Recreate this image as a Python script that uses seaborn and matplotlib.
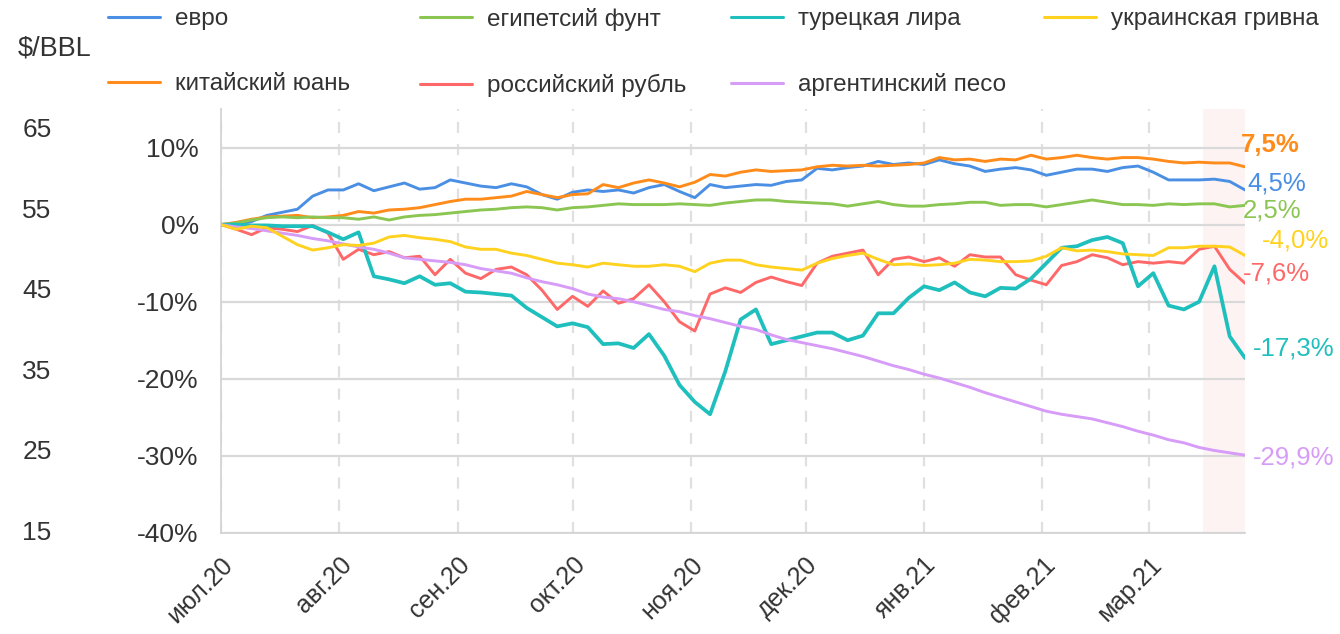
import matplotlib
matplotlib.use("Agg")
import matplotlib.pyplot as plt
import seaborn as sns
import pandas as pd

sns.set_theme(style="white")
plt.rcParams["font.family"] = ["Liberation Sans", "DejaVu Sans"]

# Изменение курса к доллару, % к 1 июля 2020 (точки каждые 4 дня)
dates = pd.date_range("2020-07-01", periods=68, freq="4D")

eur = [0.0, 0.0, 0.4, 1.2, 1.6, 2.0, 3.7, 4.5, 4.5, 5.3, 4.4, 4.9, 5.4, 4.6, 4.8, 5.8, 5.4,
       5.0, 4.8, 5.3, 4.9, 3.9, 3.3, 4.2, 4.5, 4.3, 4.5, 4.1, 4.8, 5.2, 4.3, 3.5, 5.2, 4.8,
       5.0, 5.2, 5.1, 5.6, 5.8, 7.3, 7.1, 7.4, 7.6, 8.2, 7.8, 8.0, 7.8, 8.4, 7.9, 7.6, 6.9,
       7.2, 7.4, 7.1, 6.4, 6.8, 7.2, 7.2, 6.9, 7.4, 7.6, 6.8, 5.8, 5.8, 5.8, 5.9, 5.6, 4.5]
cny = [0.0, 0.3, 0.7, 1.0, 1.1, 1.2, 0.9, 1.0, 1.2, 1.7, 1.5, 1.9, 2.0, 2.2, 2.6, 3.0, 3.3,
       3.3, 3.5, 3.7, 4.3, 3.9, 3.5, 3.9, 4.0, 5.2, 4.8, 5.4, 5.8, 5.4, 4.9, 5.5, 6.5, 6.3,
       6.8, 7.1, 6.9, 7.0, 7.1, 7.5, 7.7, 7.6, 7.7, 7.6, 7.7, 7.8, 8.0, 8.7, 8.4, 8.5, 8.2,
       8.5, 8.4, 9.0, 8.5, 8.7, 9.0, 8.7, 8.5, 8.7, 8.7, 8.5, 8.2, 8.0, 8.1, 8.0, 8.0, 7.5]
egp = [0.0, 0.2, 0.6, 0.9, 1.0, 0.9, 1.0, 0.9, 0.9, 0.7, 1.0, 0.6, 1.0, 1.2, 1.3, 1.5, 1.7,
       1.9, 2.0, 2.2, 2.3, 2.2, 1.9, 2.2, 2.3, 2.5, 2.7, 2.6, 2.6, 2.6, 2.7, 2.6, 2.5, 2.8,
       3.0, 3.2, 3.2, 3.0, 2.9, 2.8, 2.7, 2.4, 2.7, 3.0, 2.6, 2.4, 2.4, 2.6, 2.7, 2.9, 2.9,
       2.5, 2.6, 2.6, 2.3, 2.6, 2.9, 3.2, 2.9, 2.6, 2.6, 2.5, 2.7, 2.6, 2.7, 2.7, 2.3, 2.5]
rub = [0.0, -0.6, -1.3, -0.4, -0.6, -0.9, -0.1, -1.1, -4.5, -3.2, -3.9, -3.5, -4.3, -4.1,
       -6.5, -4.5, -6.3, -7.0, -5.8, -5.5, -6.5, -8.5, -11.0, -9.3, -10.6, -8.6, -10.2, -9.6,
       -7.8, -10.0, -12.6, -13.8, -9.0, -8.2, -8.8, -7.5, -6.8, -7.4, -7.9, -5.0, -4.1, -3.7,
       -3.3, -6.5, -4.5, -4.2, -4.8, -4.3, -5.4, -3.9, -4.2, -4.2, -6.5, -7.2, -7.8, -5.3,
       -4.8, -3.9, -4.3, -5.2, -4.8, -5.0, -4.8, -5.0, -3.2, -2.8, -5.8, -7.6]
tryl = [0.0, 0.0, -0.1, -0.1, -0.2, -0.2, -0.2, -1.0, -1.9, -1.0, -6.7, -7.1, -7.6, -6.7,
        -7.8, -7.6, -8.7, -8.8, -9.0, -9.2, -10.8, -12.0, -13.2, -12.8, -13.3, -15.5, -15.4,
        -16.0, -14.2, -17.0, -20.8, -23.0, -24.6, -19.0, -12.3, -11.0, -15.5, -15.0, -14.5,
        -14.0, -14.0, -15.0, -14.4, -11.5, -11.5, -9.5, -8.0, -8.5, -7.5, -8.8, -9.3, -8.2,
        -8.3, -7.0, -5.0, -3.0, -2.8, -2.0, -1.6, -2.4, -8.0, -6.3, -10.5, -11.0, -10.0,
        -5.4, -14.5, -17.3]
ars = [0.0, -0.3, -0.5, -0.8, -1.1, -1.4, -1.8, -2.1, -2.5, -2.9, -3.2, -3.7, -4.3, -4.5,
       -4.7, -4.9, -5.2, -5.7, -6.0, -6.3, -6.9, -7.4, -7.8, -8.3, -9.0, -9.4, -9.6, -10.0,
       -10.5, -11.0, -11.3, -11.8, -12.2, -12.7, -13.2, -13.6, -14.3, -14.9, -15.3, -15.7,
       -16.1, -16.6, -17.1, -17.7, -18.3, -18.8, -19.4, -19.9, -20.5, -21.1, -21.8, -22.4,
       -23.0, -23.6, -24.2, -24.6, -24.9, -25.2, -25.7, -26.2, -26.8, -27.3, -27.9, -28.3,
       -28.9, -29.3, -29.6, -29.9]
uah = [0.0, -0.6, -0.2, -0.4, -1.5, -2.6, -3.3, -3.0, -2.6, -2.7, -2.4, -1.6, -1.4, -1.7,
       -1.9, -2.2, -2.9, -3.2, -3.2, -3.7, -4.0, -4.5, -5.0, -5.2, -5.5, -5.0, -5.2, -5.4,
       -5.4, -5.2, -5.4, -6.1, -5.0, -4.6, -4.6, -5.2, -5.5, -5.7, -5.9, -5.0, -4.4, -4.0,
       -3.7, -4.5, -5.2, -5.1, -5.3, -5.2, -5.0, -4.5, -4.6, -4.8, -4.8, -4.7, -4.1, -3.0,
       -3.4, -3.3, -3.5, -3.8, -3.9, -4.0, -3.0, -3.0, -2.8, -2.8, -2.9, -4.0]

names = ["евро", "китайский юань", "египетсий фунт", "российский рубль",
         "турецкая лира", "аргентинский песо", "украинская гривна"]
series = [eur, cny, egp, rub, tryl, ars, uah]
colors = ["#4a8fe3", "#ff8c1a", "#8cc652", "#ff6868", "#1fbfbd", "#d79cf7", "#ffd21f"]

month_labels = ["июл.20", "авг.20", "сен.20", "окт.20", "ноя.20",
                "дек.20", "янв.21", "фев.21", "мар.21"]
pct_ticks = [-40, -30, -20, -10, 0, 10]
oil_ticks = [15, 25, 35, 45, 55, 65]

df = pd.concat([pd.DataFrame({"date": dates, "value": vals, "currency": name})
                for name, vals in zip(names, series)], ignore_index=True)

W, H = 1340, 634
fig = plt.figure(figsize=(W / 100, H / 100), dpi=100)
rect = [221 / W, 1 - 533 / H, (1245 - 221) / W, (533 - 109) / H]

# левая шкала $/BBL (без данных)
ax2 = fig.add_axes(rect)
ax2.patch.set_visible(False)
ax2.set_ylim(14.63, 67.36)
ax2.set_yticks(oil_ticks)
ax2.set_xticks([])
for s in ax2.spines.values():
    s.set_visible(False)
ax2.tick_params(axis="y", length=0, pad=122, labelsize=19, labelcolor="#333333")

ax = fig.add_axes(rect)
ax.patch.set_visible(False)
ax.axvspan(pd.Timestamp("2021-03-15"), dates[-1], color="#fdeeee", alpha=0.7, lw=0, zorder=0)

sns.lineplot(data=df, x="date", y="value", hue="currency", hue_order=names,
             palette=dict(zip(names, colors)), linewidth=2.1, ax=ax, zorder=3)
handles, labels = ax.get_legend_handles_labels()
ax.get_legend().remove()
for ln in ax.get_lines():
    if ln.get_label() == "турецкая лира" or ln.get_color() == "#1fbfbd":
        ln.set_linewidth(2.7)

ax.set_xlim(dates[0], dates[-1])
ax.set_ylim(-40, 15)
ax.set_yticks(pct_ticks)
ax.set_yticklabels([f"{t}%" for t in pct_ticks])
month_starts = pd.date_range("2020-07-01", "2021-03-01", freq="MS")
ax.set_xticks(month_starts)
ax.set_xticklabels(month_labels, rotation=45, ha="right", va="top", rotation_mode="anchor")
ax.set_xlabel("")
ax.set_ylabel("")

ax.yaxis.grid(True, color="#d9d9d9", lw=1.6, zorder=1)
ax.xaxis.grid(True, color="#e0e0e0", lw=1.6, linestyle=(0, (5, 5)), zorder=1)
ax.set_axisbelow(True)
for side in ["top", "right"]:
    ax.spines[side].set_visible(False)
for side in ["left", "bottom"]:
    ax.spines[side].set_color("#d4d4d4")
    ax.spines[side].set_linewidth(1.3)
ax.tick_params(axis="y", length=6, color="#d4d4d4", pad=10, labelsize=19, labelcolor="#333333")
ax.tick_params(axis="x", length=0, pad=14, labelsize=18, labelcolor="#333333")

# подписи последних значений
label_offsets = [(2, 5), (-3, 16), (-1.5, -4), (-1.5, 7), (6, 6.5), (6, -2), (12, 11)]
for name, vals, col, off in zip(names, series, colors, label_offsets):
    ax.annotate(f"{vals[-1]:.1f}%".replace(".", ","), xy=(dates[-1], vals[-1]),
                xytext=off, textcoords="offset points", ha="left", va="center",
                fontsize=18.5, color=col, annotation_clip=False,
                fontweight="bold" if name == "китайский юань" else "normal")

# легенда в четыре колонки
columns = [[0, 1], [2, 3], [4, 5], [6]]
col_x = [108, 420, 731, 1044]
for idx, x in zip(columns, col_x):
    leg = fig.legend([handles[i] for i in idx], [labels[i] for i in idx],
                     loc="upper left", bbox_to_anchor=(x / W, 1 - 8 / H),
                     frameon=False, fontsize=17.5, handlelength=2.15, handletextpad=0.6,
                     borderpad=0, borderaxespad=0, labelspacing=1.78)
    for t in leg.get_texts():
        t.set_color("#333333")
    for ln in leg.get_lines():
        ln.set_linewidth(2.2)

fig.text(18 / W, 1 - 48 / H, "\\$/BBL", fontsize=19.5, color="#333333", ha="left", va="center")

plt.savefig("out.png", dpi=100)
